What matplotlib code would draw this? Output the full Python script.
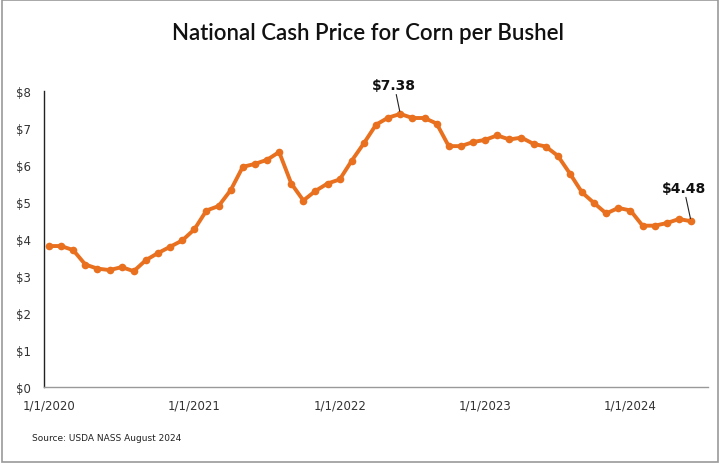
import matplotlib.pyplot as plt
from matplotlib.patches import Rectangle

# monthly national cash price, Jan 2020 - Jun 2024 ($/bu)
prices = [3.81, 3.81, 3.70, 3.31, 3.20, 3.16, 3.24, 3.13, 3.43, 3.62, 3.79, 3.96,
          4.26, 4.77, 4.89, 5.32, 5.95, 6.03, 6.14, 6.35, 5.50, 5.04, 5.30, 5.50,
          5.61, 6.12, 6.59, 7.09, 7.28, 7.38, 7.27, 7.27, 7.12, 6.51, 6.51, 6.62,
          6.68, 6.80, 6.69, 6.74, 6.57, 6.50, 6.25, 5.77, 5.26, 4.97, 4.69, 4.84,
          4.77, 4.36, 4.36, 4.43, 4.54, 4.48]
months = list(range(len(prices)))
xtick_pos = [0, 12, 24, 36, 48]
xtick_labels = ['1/1/2020', '1/1/2021', '1/1/2022', '1/1/2023', '1/1/2024']
ytick_vals = [0, 1, 2, 3, 4, 5, 6, 7, 8]

orange = '#E8701F'

fig = plt.figure(figsize=(7.2, 4.64), dpi=100)
ax = fig.add_axes([44 / 720, 1 - 388 / 464, 664 / 720, 296 / 464])

ax.plot(months, prices, color=orange, lw=2.8, marker='o', ms=5.5,
        markeredgewidth=0, solid_capstyle='round', solid_joinstyle='round')

ax.set_xlim(-0.41, 54.4)
ax.set_ylim(0, 8)
ax.set_xticks(xtick_pos)
ax.set_xticklabels(xtick_labels, fontsize=8.5, color='#333333')
ax.set_yticks(ytick_vals)
ax.set_yticklabels([f'${v}' for v in ytick_vals], fontsize=8.5, color='#333333')
ax.tick_params(axis='x', length=0, pad=8)
ax.tick_params(axis='y', length=0, pad=9.5)

ax.spines['top'].set_visible(False)
ax.spines['right'].set_visible(False)
ax.spines['left'].set_color('#222222')
ax.spines['left'].set_linewidth(1.0)
ax.spines['bottom'].set_color('#999999')
ax.spines['bottom'].set_linewidth(1.0)

# callouts for peak and latest value
peak = prices.index(max(prices))
ax.annotate(f'${prices[peak]:.2f}', xy=(peak, prices[peak]), xytext=(peak - 0.5, 7.98),
            ha='center', va='bottom', fontsize=10, fontweight='bold', color='#111111',
            arrowprops=dict(arrowstyle='-', color='#222222', lw=0.8, shrinkA=0, shrinkB=2))
last = len(prices) - 1
ax.annotate(f'${prices[last]:.2f}', xy=(last, prices[last]), xytext=(last - 0.6, 5.2),
            ha='center', va='bottom', fontsize=10, fontweight='bold', color='#111111',
            arrowprops=dict(arrowstyle='-', color='#222222', lw=0.8, shrinkA=0, shrinkB=2))

fig.text(368 / 720, 1 - 33 / 464, 'National Cash Price for Corn per Bushel',
         ha='center', va='center', fontsize=16, family='Lato', fontweight='semibold',
         color='#111111')
fig.text(32 / 720, 1 - 439 / 464, 'Source: USDA NASS August 2024',
         ha='left', va='center', fontsize=6.5, color='#222222')

fig.patches.append(Rectangle((0.003, 0.003), 0.994, 0.994, transform=fig.transFigure,
                             fill=False, edgecolor='#999999', lw=1.2))

fig.savefig('out.png', dpi=100)
